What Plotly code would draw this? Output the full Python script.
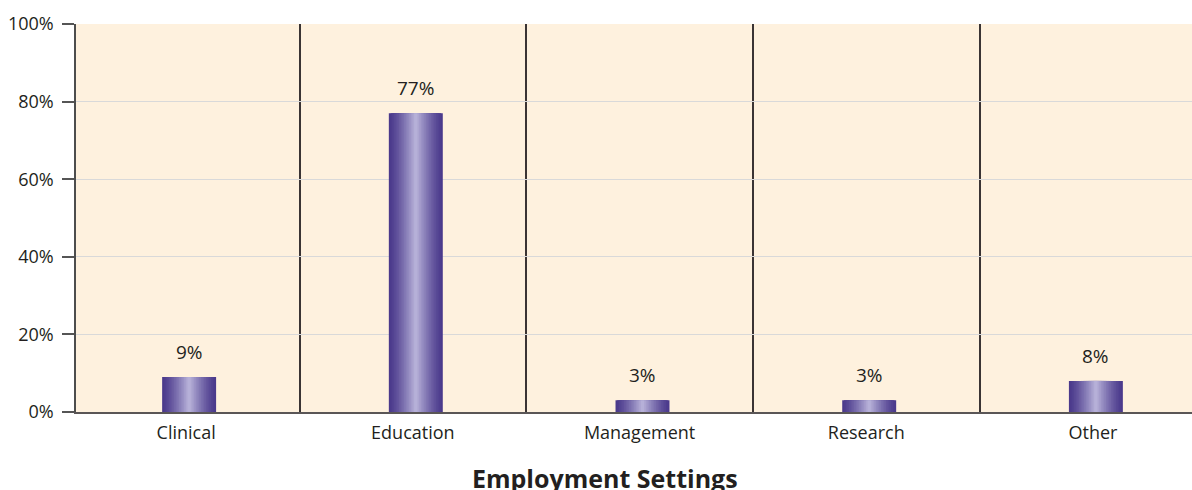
import plotly.graph_objects as go

categories = ["Clinical", "Education", "Management", "Research", "Other"]
values = [9, 77, 3, 3, 8]
labels = ["9%", "77%", "3%", "3%", "8%"]
y_ticks = [0, 20, 40, 60, 80, 100]
y_ticktext = ["0%", "20%", "40%", "60%", "80%", "100%"]

FONT = "Open Sans"
dark = (75, 58, 140)
light = (182, 176, 216)

fig = go.Figure()
N = 16
bar_w = 0.238
nudge = 0.013
for i in range(N):
    t = i / (N - 1)
    f = t ** 1.3
    c = tuple(round(dark[k] + (light[k] - dark[k]) * f) for k in range(3))
    w = bar_w * (1 - i / N)
    fig.add_trace(go.Bar(
        x=categories, y=values, width=w, offset=-w / 2 + nudge,
        marker=dict(color="rgb(%d,%d,%d)" % c, line=dict(width=0)),
        hoverinfo="skip" if i else None, showlegend=False,
    ))

for cat, v, lab in zip(categories, values, labels):
    fig.add_annotation(x=cat, y=v, text=lab, showarrow=False, yshift=25, xshift=3,
                       font=dict(family=FONT, size=19, color="#231f20"))

fig.add_annotation(x=(605 - 76) / 1116, y=0, xref="paper", yref="paper", yanchor="middle",
                   text="<b>Employment Settings</b>", showarrow=False, yshift=-66,
                   font=dict(family=FONT, size=25, color="#231f20"))

fig.update_layout(
    width=1192, height=490,
    margin=dict(l=76, r=0, t=24, b=78, autoexpand=False),
    barmode="overlay",
    plot_bgcolor="#fef1de",
    paper_bgcolor="white",
    font=dict(family=FONT, size=16, color="#231f20"),
)
fig.update_xaxes(
    type="category", range=[-0.486, 4.437], automargin=False,
    tickson="boundaries", showgrid=True, gridcolor="#3a3434", gridwidth=1.5,
    ticks="", showline=True, linecolor="#5a5656", linewidth=2,
    ticklabelstandoff=3,
    tickfont=dict(family=FONT, size=18, color="#231f20"),
)
fig.update_yaxes(
    range=[0, 100], tickvals=y_ticks, ticktext=y_ticktext, automargin=False,
    showgrid=True, gridcolor="#d9d9d9", gridwidth=1,
    ticks="outside", ticklen=12, tickcolor="#555", tickwidth=1.5,
    showline=True, linecolor="#4d4d4d", linewidth=1.5,
    zeroline=False, ticklabelstandoff=5,
    tickfont=dict(family=FONT, size=18, color="#231f20"),
)

fig.write_html("out.html", config={"displayModeBar": False},
               post_script="document.body.style.margin='0';document.body.style.overflow='hidden';")
